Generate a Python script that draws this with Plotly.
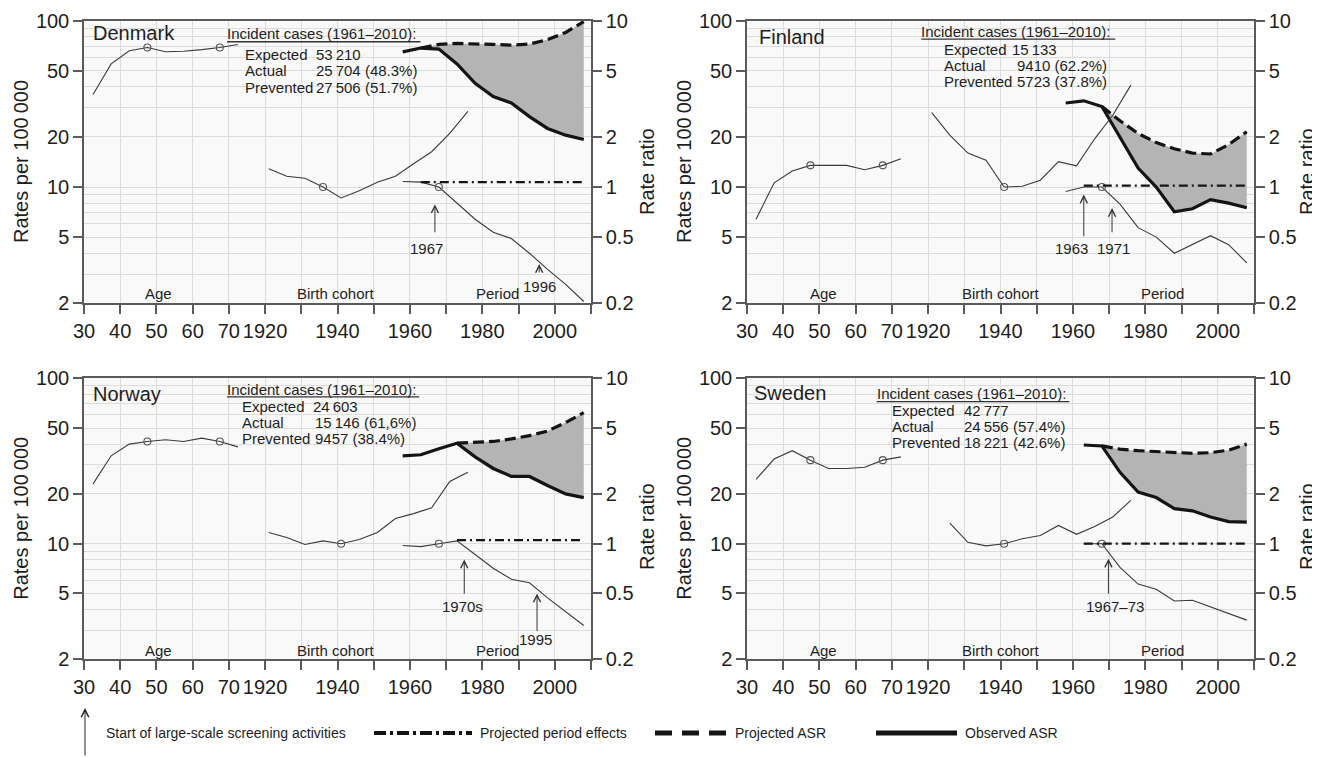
import math
import plotly.graph_objects as go

FONT = "Liberation Sans, Arial, Helvetica, sans-serif"
TS = "\u2009"  # thin space used in numbers

# ---------------- shared categories ----------------
AGE_GROUPS = [32.5, 37.5, 42.5, 47.5, 52.5, 57.5, 62.5, 67.5, 72.5]
AGE_REF = [47.5, 67.5]
COHORTS = [1921, 1926, 1931, 1936, 1941, 1946, 1951, 1956, 1961, 1966, 1971, 1976]
PERIODS = [1958, 1963, 1968, 1973, 1978, 1983, 1988, 1993, 1998, 2003, 2008]

# ---------------- Denmark ----------------
DK_AGE_RATE = [36, 55, 66, 69, 65, 65.5, 67, 69, 72]
DK_COHORT_YEARS = COHORTS
DK_COHORT_RR = [1.29, 1.16, 1.13, 1.00, 0.86, 0.95, 1.07, 1.16, 1.38, 1.63, 2.10, 2.85]
DK_COHORT_REF = 1936
DK_PERIOD_YEARS = PERIODS
DK_PERIOD_RR = [1.08, 1.07, 1.00, 0.80, 0.64, 0.535, 0.49, 0.40, 0.32, 0.26, 0.205]
DK_PERIOD_REF = 1968
DK_PPE_YEARS = [1963, 2008]
DK_PPE_RR = [1.07, 1.07]
DK_OBS_YEARS = PERIODS
DK_OBS_ASR = [65, 68.5, 67.5, 55, 42, 35, 32, 26.5, 22.5, 20.5, 19.3]
DK_PROJ_YEARS = [1963, 1968, 1973, 1978, 1983, 1988, 1993, 1998, 2003, 2008]
DK_PROJ_ASR = [68.5, 72, 73, 72.7, 72, 71.3, 72.4, 77, 85, 98.6]
DK_CASES = ["53" + TS + "210", "25" + TS + "704 (48.3%)", "27" + TS + "506 (51.7%)"]

# ---------------- Finland ----------------
FI_AGE_RATE = [6.4, 10.6, 12.5, 13.5, 13.5, 13.5, 12.7, 13.5, 14.8]
FI_COHORT_YEARS = COHORTS
FI_COHORT_RR = [2.8, 2.05, 1.6, 1.45, 1.00, 1.01, 1.10, 1.42, 1.34, 1.95, 2.7, 4.1]
FI_COHORT_REF = 1941
FI_PERIOD_YEARS = PERIODS
FI_PERIOD_RR = [0.94, 1.0, 1.0, 0.79, 0.57, 0.50, 0.40, 0.45, 0.51, 0.45, 0.35]
FI_PERIOD_REF = 1968
FI_PPE_YEARS = [1963, 2008]
FI_PPE_RR = [1.02, 1.02]
FI_OBS_YEARS = PERIODS
FI_OBS_ASR = [32, 33, 30.5, 20, 13, 10, 7.1, 7.4, 8.4, 8.0, 7.5]
FI_PROJ_YEARS = [1968, 1973, 1978, 1983, 1988, 1993, 1998, 2003, 2008]
FI_PROJ_ASR = [30.5, 25, 21, 18.5, 17, 16, 15.8, 18, 21.5]
FI_CASES = ["15" + TS + "133", "9410 (62.2%)", "5723 (37.8%)"]

# ---------------- Norway ----------------
NO_AGE_RATE = [23, 34, 40, 41.5, 42.5, 41.5, 43.5, 41.5, 38.5]
NO_COHORT_YEARS = COHORTS
NO_COHORT_RR = [1.17, 1.09, 0.99, 1.04, 1.00, 1.06, 1.17, 1.42, 1.52, 1.65, 2.38, 2.7]
NO_COHORT_REF = 1941
NO_PERIOD_YEARS = PERIODS
NO_PERIOD_RR = [0.975, 0.96, 1.0, 1.04, 0.86, 0.71, 0.61, 0.58, 0.47, 0.39, 0.32]
NO_PERIOD_REF = 1968
NO_PPE_YEARS = [1973, 2008]
NO_PPE_RR = [1.05, 1.05]
NO_OBS_YEARS = PERIODS
NO_OBS_ASR = [34, 34.5, 37.5, 40.5, 33.5, 28.5, 25.5, 25.5, 22.5, 20, 19]
NO_PROJ_YEARS = [1973, 1978, 1983, 1988, 1993, 1998, 2003, 2008]
NO_PROJ_ASR = [40.5, 41, 41.5, 43, 45, 48, 54, 62]
NO_CASES = ["24" + TS + "603", "15" + TS + "146 (61,6%)", "9457 (38.4%)"]

# ---------------- Sweden ----------------
SE_AGE_RATE = [24.5, 32.5, 36.5, 32, 28.5, 28.5, 29, 32, 33.5]
SE_COHORT_YEARS = [1926, 1931, 1936, 1941, 1946, 1951, 1956, 1961, 1966, 1971, 1976]
SE_COHORT_RR = [1.33, 1.02, 0.97, 1.00, 1.07, 1.12, 1.29, 1.14, 1.27, 1.45, 1.83]
SE_COHORT_REF = 1941
SE_PERIOD_YEARS = [1963, 1968, 1973, 1978, 1983, 1988, 1993, 1998, 2003, 2008]
SE_PERIOD_RR = [1.0, 1.0, 0.72, 0.57, 0.53, 0.45, 0.455, 0.415, 0.375, 0.345]
SE_PERIOD_REF = 1968
SE_PPE_YEARS = [1963, 2008]
SE_PPE_RR = [1.0, 1.0]
SE_OBS_YEARS = [1963, 1968, 1973, 1978, 1983, 1988, 1993, 1998, 2003, 2008]
SE_OBS_ASR = [39.5, 39, 27, 20.5, 19, 16.3, 15.8, 14.5, 13.6, 13.5]
SE_PROJ_YEARS = [1968, 1973, 1978, 1983, 1988, 1993, 1998, 2003, 2008]
SE_PROJ_ASR = [39, 37.3, 36.5, 36, 35.5, 35.2, 35.5, 36.8, 40]
SE_CASES = ["42" + TS + "777", "24" + TS + "556 (57.4%)", "18" + TS + "221 (42.6%)"]

CASE_LABELS = ["Expected", "Actual", "Prevented"]
SECTION_LABELS = ["Age", "Birth cohort", "Period"]

# x tick labels of the combined age / calendar axis
X_TICK_POS = [30, 40, 50, 60, 70, 80, 90, 100, 110, 120, 130, 140, 150, 160, 170]
X_TICK_TEXT = ["30", "40", "50", "60", "70", "1920", "", "1940", "", "1960", "", "1980", "", "2000", ""]
Y_TICKS = [2, 5, 10, 20, 50, 100]
Y_MINOR = [3, 4, 6, 7, 8, 9, 30, 40, 60, 70, 80, 90]
RR_TICKS = [0.2, 0.5, 1, 2, 5, 10]
RR_TEXT = ["0.2", "0.5", "1", "2", "5", "10"]

YEAR_OFFSET = 1840  # calendar year -> position on the combined axis (1920 sits 10 units after age 70)


def cx(years):
    return [y - YEAR_OFFSET for y in years]


PANELS = [
    dict(name="Denmark", age=DK_AGE_RATE, coh_y=DK_COHORT_YEARS, coh=DK_COHORT_RR, coh_ref=DK_COHORT_REF,
         per_y=DK_PERIOD_YEARS, per=DK_PERIOD_RR, per_ref=DK_PERIOD_REF, ppe_y=DK_PPE_YEARS, ppe=DK_PPE_RR,
         obs_y=DK_OBS_YEARS, obs=DK_OBS_ASR, proj_y=DK_PROJ_YEARS, proj=DK_PROJ_ASR, cases=DK_CASES),
    dict(name="Finland", age=FI_AGE_RATE, coh_y=FI_COHORT_YEARS, coh=FI_COHORT_RR, coh_ref=FI_COHORT_REF,
         per_y=FI_PERIOD_YEARS, per=FI_PERIOD_RR, per_ref=FI_PERIOD_REF, ppe_y=FI_PPE_YEARS, ppe=FI_PPE_RR,
         obs_y=FI_OBS_YEARS, obs=FI_OBS_ASR, proj_y=FI_PROJ_YEARS, proj=FI_PROJ_ASR, cases=FI_CASES),
    dict(name="Norway", age=NO_AGE_RATE, coh_y=NO_COHORT_YEARS, coh=NO_COHORT_RR, coh_ref=NO_COHORT_REF,
         per_y=NO_PERIOD_YEARS, per=NO_PERIOD_RR, per_ref=NO_PERIOD_REF, ppe_y=NO_PPE_YEARS, ppe=NO_PPE_RR,
         obs_y=NO_OBS_YEARS, obs=NO_OBS_ASR, proj_y=NO_PROJ_YEARS, proj=NO_PROJ_ASR, cases=NO_CASES),
    dict(name="Sweden", age=SE_AGE_RATE, coh_y=SE_COHORT_YEARS, coh=SE_COHORT_RR, coh_ref=SE_COHORT_REF,
         per_y=SE_PERIOD_YEARS, per=SE_PERIOD_RR, per_ref=SE_PERIOD_REF, ppe_y=SE_PPE_YEARS, ppe=SE_PPE_RR,
         obs_y=SE_OBS_YEARS, obs=SE_OBS_ASR, proj_y=SE_PROJ_YEARS, proj=SE_PROJ_ASR, cases=SE_CASES),
]

# ---------------- placement (style) ----------------
# The page body has an 8px margin, so the figure is sized to the rest of the window and all
# page-pixel positions are converted with that offset.
PAGE_OFF = 8
FIG_W = 1320 - PAGE_OFF
FIG_H = 757 - PAGE_OFF


def px(xp):
    return (xp - PAGE_OFF) / FIG_W


def py(yp):
    return 1 - (yp - PAGE_OFF) / FIG_H


LEFT_X = [px(84), px(591)]
RIGHT_X = [px(747), px(1254)]
TOP_Y = [py(303.3), py(20.7)]
BOT_Y = [py(659.3), py(378.3)]
DOMAINS = [(LEFT_X, TOP_Y), (RIGHT_X, TOP_Y), (LEFT_X, BOT_Y), (RIGHT_X, BOT_Y)]

PLACE = [
    dict(name=(32.0, 0.955), inc=(69.0, 0.955, 0.9255, 122.9), lab_u=73.8, rows_f=[0.881, 0.823, 0.764],
         num_u=[93.6, 93.6, 93.6], sec_f=0.0355, sec_u=[50.7, 99.6, 144.3],
         arrows=[(126.9, 0.350, 0.246, "1967", 124.6, 0.193), (155.7, 0.139, 0.104, "1996", 155.9, 0.059)]),
    dict(name=(32.8, 0.941), inc=(77.6, 0.961, 0.935, 131.7), lab_u=83.9, rows_f=[0.898, 0.843, 0.786],
         num_u=[102.6, 104.0, 104.0], sec_f=0.0355, sec_u=[51.1, 100.2, 144.7],
         arrows=[(123.0, 0.385, 0.232, "1963", 119.5, 0.193), (130.8, 0.337, 0.246, "1971", 131.2, 0.193)]),
    dict(name=(32.0, 0.943), inc=(69.0, 0.961, 0.934, 122.6), lab_u=73.0, rows_f=[0.898, 0.843, 0.784],
         num_u=[92.8, 93.1, 93.1], sec_f=0.031, sec_u=[50.7, 99.6, 144.3],
         arrows=[(135.0, 0.355, 0.228, "1970s", 134.5, 0.187), (155.1, 0.234, 0.095, "1995", 154.8, 0.072)]),
    dict(name=(31.5, 0.946), inc=(65.3, 0.946, 0.917, 119.0), lab_u=69.5, rows_f=[0.884, 0.827, 0.772],
         num_u=[89.5, 89.5, 89.5], sec_f=0.031, sec_u=[51.1, 100.2, 144.7],
         arrows=[(129.8, 0.358, 0.228, "1967\u201373", 131.7, 0.187)]),
]

THIN = "#3a3a3a"
THICK = "#141414"
AXIS_COL = "#5a5a5a"
GRID_COL = "#dcdcdc"
FILL_COL = "#b4b4b4"
TXT = "#1e1e1e"

fig = go.Figure()
annotations = []
shapes = []
layout = {}

for i, (p, pl) in enumerate(zip(PANELS, PLACE)):
    xs = "" if i == 0 else str(i + 1)
    yl = "" if i == 0 else str(2 * i + 1)
    yr = str(2 * i + 2)
    xname, ylname, yrname = "x" + xs, "y" + yl, "y" + yr
    xdom, ydom = DOMAINS[i]

    layout["xaxis" + xs] = dict(
        domain=xdom, anchor=ylname, range=[30, 170], tickmode="array", tickvals=X_TICK_POS,
        ticktext=X_TICK_TEXT, ticks="outside", ticklen=9, tickwidth=1.5, tickcolor=AXIS_COL,
        showline=True, linecolor=AXIS_COL, linewidth=1.5, mirror=True, showgrid=True,
        gridcolor=GRID_COL, gridwidth=1, zeroline=False, automargin=False,
        tickfont=dict(size=20, color=TXT, family=FONT))
    layout["yaxis" + yl] = dict(
        domain=ydom, anchor=xname, type="log", range=[math.log10(2), 2], tickmode="array",
        tickvals=Y_TICKS, ticktext=[str(v) for v in Y_TICKS], ticks="outside", ticklen=9,
        tickwidth=1.5, tickcolor=AXIS_COL, showline=True, linecolor=AXIS_COL, linewidth=1.5,
        showgrid=True, gridcolor=GRID_COL, gridwidth=1, zeroline=False, automargin=False,
        minor=dict(tickmode="array", tickvals=Y_MINOR, showgrid=True, gridcolor=GRID_COL, gridwidth=1, ticks=""),
        tickfont=dict(size=20, color=TXT, family=FONT))
    layout["yaxis" + yr] = dict(
        overlaying=ylname, anchor=xname, side="right", type="log", range=[math.log10(0.2), 1],
        tickmode="array", tickvals=RR_TICKS, ticktext=RR_TEXT, ticks="outside", ticklen=9,
        tickwidth=1.5, tickcolor=AXIS_COL, showline=True, linecolor=AXIS_COL, linewidth=1.5,
        showgrid=False, zeroline=False, automargin=False,
        tickfont=dict(size=20, color=TXT, family=FONT))

    # shaded prevented area between observed and projected ASR
    obs_map = dict(zip(p["obs_y"], p["obs"]))
    fig.add_trace(go.Scatter(x=cx(p["proj_y"]), y=[obs_map[y] for y in p["proj_y"]], mode="lines",
                             line=dict(width=0, color=FILL_COL), xaxis=xname, yaxis=ylname,
                             hoverinfo="skip", showlegend=False))
    fig.add_trace(go.Scatter(x=cx(p["proj_y"]), y=p["proj"], mode="lines", fill="tonexty",
                             fillcolor=FILL_COL, line=dict(width=0, color=FILL_COL), xaxis=xname,
                             yaxis=ylname, hoverinfo="skip", showlegend=False))
    # age curve
    fig.add_trace(go.Scatter(x=AGE_GROUPS, y=p["age"], mode="lines", line=dict(color=THIN, width=1.1),
                             xaxis=xname, yaxis=ylname, showlegend=False))
    fig.add_trace(go.Scatter(x=AGE_REF, y=[p["age"][AGE_GROUPS.index(a)] for a in AGE_REF], mode="markers",
                             marker=dict(symbol="circle-open", size=7, color="#555", line=dict(width=1.1)),
                             xaxis=xname, yaxis=ylname, showlegend=False))
    # observed ASR and projected ASR
    fig.add_trace(go.Scatter(x=cx(p["obs_y"]), y=p["obs"], mode="lines", line=dict(color=THICK, width=3.2),
                             xaxis=xname, yaxis=ylname, showlegend=False))
    fig.add_trace(go.Scatter(x=cx(p["proj_y"]), y=p["proj"], mode="lines",
                             line=dict(color=THICK, width=3.2, dash="11px,5px"),
                             xaxis=xname, yaxis=ylname, showlegend=False))
    # cohort RR
    fig.add_trace(go.Scatter(x=cx(p["coh_y"]), y=p["coh"], mode="lines", line=dict(color=THIN, width=1.1),
                             xaxis=xname, yaxis=yrname, showlegend=False))
    fig.add_trace(go.Scatter(x=cx([p["coh_ref"]]), y=[p["coh"][p["coh_y"].index(p["coh_ref"])]],
                             mode="markers",
                             marker=dict(symbol="circle-open", size=7, color="#555", line=dict(width=1.1)),
                             xaxis=xname, yaxis=yrname, showlegend=False))
    # period RR
    fig.add_trace(go.Scatter(x=cx(p["per_y"]), y=p["per"], mode="lines", line=dict(color=THIN, width=1.1),
                             xaxis=xname, yaxis=yrname, showlegend=False))
    fig.add_trace(go.Scatter(x=cx([p["per_ref"]]), y=[p["per"][p["per_y"].index(p["per_ref"])]],
                             mode="markers",
                             marker=dict(symbol="circle-open", size=7, color="#555", line=dict(width=1.1)),
                             xaxis=xname, yaxis=yrname, showlegend=False))
    # projected period effects
    fig.add_trace(go.Scatter(x=cx(p["ppe_y"]), y=p["ppe"], mode="lines",
                             line=dict(color=THICK, width=2.2, dash="9px,4px,2px,4px"),
                             xaxis=xname, yaxis=yrname, showlegend=False))

    ydref = ylname + " domain"
    # country name
    annotations.append(dict(text=p["name"], x=pl["name"][0], y=pl["name"][1], xref=xname, yref=ydref,
                            xanchor="left", yanchor="middle", showarrow=False,
                            font=dict(size=20, color=TXT, family=FONT)))
    # incident cases block
    iu, iff, ulf, uend = pl["inc"]
    annotations.append(dict(text="Incident cases (1961\u20132010):", x=iu, y=iff, xref=xname, yref=ydref,
                            xanchor="left", yanchor="middle", showarrow=False,
                            font=dict(size=15, color=TXT, family=FONT)))
    shapes.append(dict(type="line", xref=xname, yref=ydref, x0=iu + 0.5, x1=uend, y0=ulf, y1=ulf,
                       line=dict(color="#333", width=1.3)))
    for lab, num, f, nu in zip(CASE_LABELS, p["cases"], pl["rows_f"], pl["num_u"]):
        annotations.append(dict(text=lab, x=pl["lab_u"], y=f, xref=xname, yref=ydref, xanchor="left",
                                yanchor="middle", showarrow=False,
                                font=dict(size=15, color=TXT, family=FONT)))
        annotations.append(dict(text=num, x=nu, y=f, xref=xname, yref=ydref, xanchor="left",
                                yanchor="middle", showarrow=False,
                                font=dict(size=15, color=TXT, family=FONT)))
    for lab, u in zip(SECTION_LABELS, pl["sec_u"]):
        annotations.append(dict(text=lab, x=u, y=pl["sec_f"], xref=xname, yref=ydref, xanchor="center",
                                yanchor="middle", showarrow=False,
                                font=dict(size=15, color=TXT, family=FONT)))
    for (au, fh, ft, lab, lu, lf) in pl["arrows"]:
        annotations.append(dict(text="", x=au, y=fh, ax=au, ay=ft, xref=xname, yref=ydref, axref=xname,
                                ayref=ydref, showarrow=True, arrowhead=5, arrowsize=1.4, arrowwidth=1,
                                arrowcolor="#333"))
        annotations.append(dict(text=lab, x=lu, y=lf, xref=xname, yref=ydref, xanchor="center",
                                yanchor="middle", showarrow=False,
                                font=dict(size=15, color=TXT, family=FONT)))

    # axis titles
    left_px = 21 if i % 2 == 0 else 684
    right_px = 647 if i % 2 == 0 else 1307
    yc_left = 162 if i < 2 else 518.8
    yc_right = 172 if i < 2 else 527
    annotations.append(dict(text="Rates per 100" + TS + "000", x=px(left_px), y=py(yc_left),
                            xref="paper", yref="paper", textangle=-90, xanchor="center", yanchor="middle",
                            showarrow=False, font=dict(size=20, color=TXT, family=FONT)))
    annotations.append(dict(text="Rate ratio", x=px(right_px), y=py(yc_right),
                            xref="paper", yref="paper", textangle=-90, xanchor="center", yanchor="middle",
                            showarrow=False, font=dict(size=20, color=TXT, family=FONT)))

# ---------------- bottom key ----------------
KEY_Y = py(733)
annotations.append(dict(text="", x=px(85), y=py(708), xref="paper", yref="paper", ax=0, ay=60,
                        showarrow=True, arrowhead=5, arrowsize=1.5, arrowwidth=1, arrowcolor="#222"))
KEY_TEXT = ["Start of large-scale screening activities", "Projected period effects", "Projected ASR",
            "Observed ASR"]
KEY_TEXT_X = [104, 478, 733, 963]
for t, xp in zip(KEY_TEXT, KEY_TEXT_X):
    annotations.append(dict(text=t, x=px(xp), y=KEY_Y, xref="paper", yref="paper", xanchor="left",
                            yanchor="middle", showarrow=False, font=dict(size=14, color=TXT, family=FONT)))
shapes.append(dict(type="line", xref="paper", yref="paper", x0=px(374), x1=px(472), y0=KEY_Y, y1=KEY_Y,
                   line=dict(color=THICK, width=4, dash="12px,4px,3px,4px")))
shapes.append(dict(type="line", xref="paper", yref="paper", x0=px(655), x1=px(727), y0=KEY_Y, y1=KEY_Y,
                   line=dict(color=THICK, width=5, dash="17px,10px")))
shapes.append(dict(type="line", xref="paper", yref="paper", x0=px(876), x1=px(957), y0=KEY_Y, y1=KEY_Y,
                   line=dict(color=THICK, width=5)))

fig.update_layout(
    width=FIG_W, height=FIG_H, margin=dict(l=0, r=0, t=0, b=0), paper_bgcolor="white",
    plot_bgcolor="#f9f9f9", showlegend=False, font=dict(family=FONT, color=TXT),
    annotations=annotations, shapes=shapes, **layout)

fig.write_html("out.html")
